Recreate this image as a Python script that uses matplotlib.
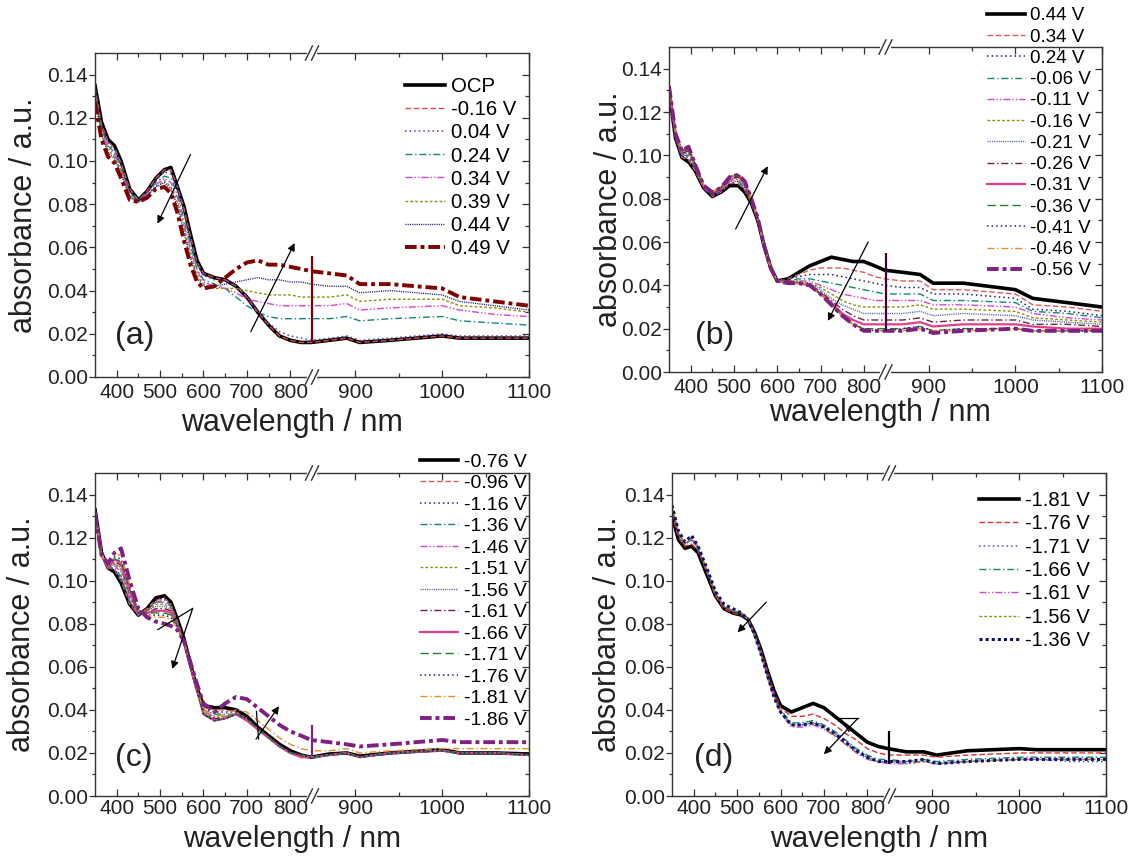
import numpy as np
import matplotlib
matplotlib.use('Agg')
import matplotlib.pyplot as plt
from matplotlib.ticker import FixedLocator, FormatStrFormatter

plt.rcParams['font.family'] = ['Liberation Sans', 'DejaVu Sans']

# wavelength grid (nm) used for every spectrum
wl = [350, 365, 380, 395, 410, 430, 450, 470, 490, 510,
      525, 540, 555, 570, 585, 600, 625, 650, 675, 700,
      725, 750, 775, 800, 825, 848, 870, 890, 905, 940,
      1000, 1020, 1060, 1100]

# ---- panel (a) ----
a_labels = ['OCP', '-0.16 V', '0.04 V', '0.24 V', '0.34 V', '0.39 V', '0.44 V', '0.49 V']
a_ocp = [0.135, 0.118, 0.110, 0.107, 0.100, 0.087, 0.082, 0.086, 0.092, 0.096,
         0.097, 0.088, 0.079, 0.066, 0.054, 0.048, 0.046, 0.045, 0.042, 0.037,
         0.030, 0.024, 0.019, 0.017, 0.016, 0.016, 0.017, 0.018, 0.016, 0.017,
         0.019, 0.018, 0.018, 0.018]
a_m016 = [0.134, 0.117, 0.109, 0.106, 0.099, 0.087, 0.082, 0.086, 0.092, 0.096,
          0.096, 0.088, 0.078, 0.065, 0.053, 0.048, 0.046, 0.045, 0.042, 0.037,
          0.030, 0.024, 0.019, 0.017, 0.016, 0.016, 0.017, 0.018, 0.016, 0.017,
          0.019, 0.018, 0.018, 0.018]
a_p004 = [0.133, 0.116, 0.108, 0.105, 0.098, 0.086, 0.082, 0.086, 0.091, 0.095,
          0.094, 0.087, 0.076, 0.063, 0.052, 0.047, 0.045, 0.045, 0.042, 0.038,
          0.031, 0.025, 0.021, 0.019, 0.018, 0.017, 0.018, 0.019, 0.017, 0.018,
          0.020, 0.019, 0.019, 0.019]
a_p024 = [0.132, 0.115, 0.107, 0.104, 0.097, 0.085, 0.082, 0.085, 0.090, 0.093,
          0.092, 0.085, 0.073, 0.061, 0.050, 0.045, 0.043, 0.041, 0.037, 0.033,
          0.030, 0.028, 0.027, 0.027, 0.027, 0.027, 0.027, 0.028, 0.026, 0.027,
          0.028, 0.026, 0.025, 0.024]
a_p034 = [0.131, 0.114, 0.106, 0.103, 0.096, 0.084, 0.081, 0.085, 0.089, 0.092,
          0.090, 0.083, 0.071, 0.059, 0.049, 0.044, 0.042, 0.041, 0.039, 0.036,
          0.035, 0.034, 0.033, 0.033, 0.033, 0.033, 0.033, 0.034, 0.031, 0.032,
          0.033, 0.031, 0.029, 0.028]
a_p039 = [0.130, 0.113, 0.105, 0.102, 0.095, 0.084, 0.081, 0.084, 0.088, 0.091,
          0.088, 0.081, 0.069, 0.057, 0.047, 0.043, 0.041, 0.041, 0.041, 0.040,
          0.039, 0.038, 0.038, 0.038, 0.037, 0.037, 0.037, 0.038, 0.035, 0.036,
          0.036, 0.033, 0.032, 0.030]
a_p044 = [0.129, 0.112, 0.104, 0.101, 0.094, 0.083, 0.081, 0.084, 0.088, 0.090,
          0.087, 0.079, 0.067, 0.055, 0.046, 0.042, 0.042, 0.043, 0.044, 0.045,
          0.046, 0.045, 0.045, 0.044, 0.044, 0.043, 0.042, 0.042, 0.039, 0.040,
          0.038, 0.035, 0.033, 0.031]
a_p049 = [0.127, 0.110, 0.102, 0.099, 0.092, 0.082, 0.081, 0.083, 0.087, 0.088,
          0.085, 0.076, 0.063, 0.052, 0.044, 0.041, 0.042, 0.046, 0.050, 0.053,
          0.054, 0.052, 0.052, 0.051, 0.050, 0.049, 0.048, 0.047, 0.043, 0.043,
          0.041, 0.037, 0.035, 0.033]
a_spike = [850, 0.016, 0.056]

# ---- panel (b) ----
b_labels = ['0.44 V', '0.34 V', '0.24 V', '-0.06 V', '-0.11 V', '-0.16 V', '-0.21 V',
            '-0.26 V', '-0.31 V', '-0.36 V', '-0.41 V', '-0.46 V', '-0.56 V']
b_p044 = [0.130, 0.108, 0.099, 0.097, 0.093, 0.085, 0.081, 0.083, 0.086, 0.086,
          0.083, 0.078, 0.070, 0.058, 0.048, 0.042, 0.043, 0.046, 0.049, 0.051,
          0.053, 0.052, 0.051, 0.051, 0.049, 0.047, 0.046, 0.045, 0.041, 0.041,
          0.038, 0.034, 0.032, 0.030]
b_p034 = [0.130, 0.108, 0.099, 0.098, 0.093, 0.085, 0.081, 0.083, 0.087, 0.087,
          0.084, 0.078, 0.070, 0.058, 0.048, 0.042, 0.043, 0.045, 0.047, 0.048,
          0.048, 0.048, 0.047, 0.046, 0.044, 0.043, 0.042, 0.042, 0.038, 0.038,
          0.036, 0.031, 0.030, 0.028]
b_p024 = [0.131, 0.108, 0.100, 0.099, 0.094, 0.085, 0.081, 0.083, 0.087, 0.088,
          0.085, 0.078, 0.070, 0.058, 0.048, 0.042, 0.043, 0.044, 0.045, 0.045,
          0.045, 0.044, 0.043, 0.042, 0.041, 0.040, 0.039, 0.039, 0.036, 0.036,
          0.034, 0.029, 0.028, 0.026]
b_m006 = [0.131, 0.109, 0.100, 0.100, 0.094, 0.085, 0.082, 0.084, 0.088, 0.088,
          0.085, 0.079, 0.070, 0.058, 0.048, 0.042, 0.042, 0.043, 0.043, 0.042,
          0.041, 0.040, 0.039, 0.038, 0.037, 0.036, 0.036, 0.036, 0.033, 0.033,
          0.032, 0.028, 0.027, 0.025]
b_m011 = [0.131, 0.109, 0.100, 0.101, 0.095, 0.085, 0.082, 0.084, 0.088, 0.089,
          0.086, 0.079, 0.070, 0.058, 0.048, 0.042, 0.042, 0.042, 0.042, 0.040,
          0.038, 0.036, 0.035, 0.034, 0.033, 0.033, 0.033, 0.033, 0.031, 0.031,
          0.030, 0.027, 0.025, 0.024]
b_m016 = [0.131, 0.109, 0.101, 0.101, 0.095, 0.086, 0.082, 0.084, 0.089, 0.089,
          0.086, 0.079, 0.070, 0.058, 0.048, 0.042, 0.042, 0.042, 0.041, 0.039,
          0.036, 0.033, 0.031, 0.030, 0.030, 0.030, 0.030, 0.031, 0.029, 0.029,
          0.028, 0.025, 0.024, 0.023]
b_m021 = [0.132, 0.109, 0.101, 0.102, 0.095, 0.086, 0.082, 0.085, 0.089, 0.090,
          0.087, 0.080, 0.070, 0.058, 0.048, 0.042, 0.042, 0.041, 0.041, 0.038,
          0.034, 0.031, 0.029, 0.027, 0.027, 0.027, 0.027, 0.028, 0.026, 0.027,
          0.026, 0.024, 0.023, 0.022]
b_m026 = [0.132, 0.110, 0.101, 0.102, 0.096, 0.086, 0.082, 0.085, 0.089, 0.090,
          0.087, 0.080, 0.071, 0.058, 0.048, 0.042, 0.042, 0.041, 0.040, 0.037,
          0.033, 0.029, 0.026, 0.024, 0.024, 0.024, 0.024, 0.025, 0.023, 0.024,
          0.024, 0.022, 0.022, 0.021]
b_m031 = [0.132, 0.110, 0.102, 0.103, 0.096, 0.086, 0.083, 0.085, 0.090, 0.091,
          0.088, 0.080, 0.071, 0.058, 0.048, 0.042, 0.041, 0.041, 0.040, 0.036,
          0.032, 0.027, 0.024, 0.022, 0.022, 0.022, 0.022, 0.023, 0.021, 0.022,
          0.022, 0.021, 0.020, 0.020]
b_m036 = [0.132, 0.110, 0.102, 0.103, 0.096, 0.086, 0.083, 0.085, 0.090, 0.091,
          0.088, 0.080, 0.071, 0.058, 0.048, 0.042, 0.041, 0.041, 0.040, 0.036,
          0.031, 0.026, 0.022, 0.020, 0.020, 0.020, 0.020, 0.021, 0.019, 0.020,
          0.020, 0.019, 0.019, 0.019]
b_m041 = [0.132, 0.110, 0.102, 0.104, 0.096, 0.086, 0.083, 0.085, 0.090, 0.091,
          0.088, 0.080, 0.071, 0.058, 0.048, 0.042, 0.041, 0.041, 0.040, 0.036,
          0.031, 0.026, 0.022, 0.020, 0.019, 0.019, 0.020, 0.021, 0.019, 0.020,
          0.020, 0.019, 0.019, 0.019]
b_m046 = [0.132, 0.110, 0.102, 0.104, 0.096, 0.086, 0.083, 0.085, 0.090, 0.091,
          0.088, 0.080, 0.071, 0.058, 0.048, 0.042, 0.041, 0.041, 0.040, 0.036,
          0.031, 0.026, 0.022, 0.019, 0.019, 0.019, 0.019, 0.020, 0.019, 0.019,
          0.020, 0.019, 0.019, 0.019]
b_m056 = [0.132, 0.110, 0.102, 0.104, 0.096, 0.086, 0.083, 0.085, 0.090, 0.091,
          0.088, 0.080, 0.071, 0.058, 0.048, 0.042, 0.041, 0.041, 0.040, 0.036,
          0.031, 0.026, 0.022, 0.019, 0.019, 0.019, 0.019, 0.020, 0.018, 0.019,
          0.020, 0.019, 0.019, 0.019]
b_spike = [850, 0.019, 0.055]

# ---- panel (c) ----
c_labels = ['-0.76 V', '-0.96 V', '-1.16 V', '-1.36 V', '-1.46 V', '-1.51 V', '-1.56 V',
            '-1.61 V', '-1.66 V', '-1.71 V', '-1.76 V', '-1.81 V', '-1.86 V']
c_m076 = [0.133, 0.113, 0.106, 0.104, 0.099, 0.089, 0.084, 0.087, 0.092, 0.093,
          0.090, 0.082, 0.073, 0.061, 0.050, 0.042, 0.041, 0.041, 0.040, 0.037,
          0.032, 0.028, 0.024, 0.021, 0.019, 0.018, 0.0195, 0.020, 0.0185, 0.020,
          0.0215, 0.020, 0.020, 0.0195]
c_m096 = [0.133, 0.113, 0.106, 0.105, 0.100, 0.089, 0.084, 0.087, 0.091, 0.092,
          0.089, 0.081, 0.072, 0.060, 0.049, 0.041, 0.040, 0.040, 0.039, 0.036,
          0.031, 0.027, 0.023, 0.020, 0.019, 0.018, 0.019, 0.020, 0.018, 0.020,
          0.021, 0.020, 0.020, 0.019]
c_m116 = [0.133, 0.113, 0.106, 0.105, 0.101, 0.090, 0.084, 0.086, 0.091, 0.092,
          0.089, 0.081, 0.072, 0.060, 0.049, 0.040, 0.039, 0.039, 0.039, 0.036,
          0.031, 0.027, 0.023, 0.020, 0.019, 0.018, 0.019, 0.020, 0.018, 0.020,
          0.021, 0.020, 0.020, 0.019]
c_m136 = [0.132, 0.113, 0.106, 0.106, 0.102, 0.090, 0.084, 0.086, 0.090, 0.091,
          0.088, 0.080, 0.071, 0.060, 0.049, 0.040, 0.038, 0.038, 0.038, 0.035,
          0.031, 0.027, 0.023, 0.020, 0.019, 0.018, 0.019, 0.020, 0.018, 0.020,
          0.021, 0.020, 0.020, 0.019]
c_m146 = [0.132, 0.113, 0.106, 0.107, 0.104, 0.091, 0.084, 0.086, 0.090, 0.090,
          0.088, 0.080, 0.071, 0.060, 0.049, 0.039, 0.037, 0.037, 0.038, 0.035,
          0.031, 0.027, 0.023, 0.020, 0.019, 0.018, 0.019, 0.020, 0.018, 0.020,
          0.021, 0.020, 0.020, 0.019]
c_m151 = [0.132, 0.113, 0.106, 0.108, 0.105, 0.092, 0.085, 0.086, 0.089, 0.089,
          0.087, 0.080, 0.071, 0.060, 0.049, 0.039, 0.036, 0.037, 0.038, 0.035,
          0.031, 0.027, 0.023, 0.020, 0.019, 0.018, 0.019, 0.020, 0.018, 0.020,
          0.021, 0.020, 0.020, 0.019]
c_m156 = [0.132, 0.112, 0.106, 0.108, 0.106, 0.093, 0.085, 0.086, 0.088, 0.088,
          0.086, 0.080, 0.071, 0.060, 0.049, 0.038, 0.036, 0.036, 0.038, 0.035,
          0.031, 0.027, 0.023, 0.020, 0.019, 0.018, 0.019, 0.020, 0.018, 0.020,
          0.021, 0.020, 0.020, 0.019]
c_m161 = [0.132, 0.112, 0.106, 0.109, 0.107, 0.094, 0.085, 0.085, 0.087, 0.087,
          0.086, 0.079, 0.071, 0.060, 0.049, 0.038, 0.036, 0.036, 0.038, 0.035,
          0.031, 0.027, 0.023, 0.020, 0.019, 0.018, 0.019, 0.020, 0.018, 0.020,
          0.021, 0.020, 0.020, 0.019]
c_m166 = [0.132, 0.112, 0.106, 0.110, 0.108, 0.095, 0.086, 0.085, 0.086, 0.086,
          0.085, 0.079, 0.071, 0.060, 0.049, 0.038, 0.035, 0.036, 0.038, 0.035,
          0.031, 0.027, 0.023, 0.020, 0.018, 0.018, 0.019, 0.020, 0.018, 0.020,
          0.021, 0.020, 0.020, 0.019]
c_m171 = [0.132, 0.112, 0.107, 0.110, 0.109, 0.096, 0.086, 0.085, 0.085, 0.085,
          0.084, 0.079, 0.071, 0.060, 0.049, 0.038, 0.035, 0.036, 0.038, 0.036,
          0.031, 0.027, 0.023, 0.020, 0.019, 0.018, 0.019, 0.020, 0.018, 0.020,
          0.021, 0.020, 0.020, 0.019]
c_m176 = [0.131, 0.112, 0.107, 0.111, 0.110, 0.097, 0.086, 0.084, 0.084, 0.084,
          0.083, 0.078, 0.071, 0.060, 0.049, 0.038, 0.035, 0.036, 0.038, 0.036,
          0.032, 0.028, 0.024, 0.020, 0.019, 0.018, 0.019, 0.020, 0.018, 0.020,
          0.021, 0.020, 0.020, 0.019]
c_m181 = [0.131, 0.112, 0.107, 0.112, 0.112, 0.098, 0.086, 0.084, 0.083, 0.083,
          0.082, 0.078, 0.072, 0.061, 0.050, 0.040, 0.037, 0.038, 0.040, 0.039,
          0.035, 0.031, 0.027, 0.024, 0.022, 0.021, 0.021, 0.022, 0.020, 0.021,
          0.022, 0.022, 0.022, 0.022]
c_m186 = [0.131, 0.112, 0.108, 0.113, 0.115, 0.100, 0.087, 0.083, 0.081, 0.080,
          0.079, 0.077, 0.072, 0.062, 0.052, 0.043, 0.039, 0.043, 0.046, 0.045,
          0.041, 0.037, 0.033, 0.030, 0.028, 0.026, 0.025, 0.024, 0.023, 0.024,
          0.026, 0.025, 0.025, 0.025]
c_spike = [850, 0.019, 0.033]

# ---- panel (d) ----
d_labels = ['-1.81 V', '-1.76 V', '-1.71 V', '-1.66 V', '-1.61 V', '-1.56 V', '-1.36 V']
d_m181 = [0.130, 0.119, 0.115, 0.116, 0.113, 0.103, 0.093, 0.087, 0.085, 0.084,
          0.082, 0.076, 0.068, 0.058, 0.049, 0.042, 0.039, 0.041, 0.043, 0.041,
          0.037, 0.033, 0.029, 0.025, 0.023, 0.022, 0.0205, 0.0205, 0.019, 0.021,
          0.022, 0.0215, 0.0215, 0.0215]
d_m176 = [0.131, 0.120, 0.116, 0.117, 0.114, 0.104, 0.093, 0.087, 0.085, 0.084,
          0.082, 0.076, 0.068, 0.058, 0.048, 0.041, 0.037, 0.037, 0.038, 0.036,
          0.033, 0.029, 0.026, 0.022, 0.020, 0.019, 0.019, 0.019, 0.018, 0.019,
          0.020, 0.020, 0.020, 0.020]
d_m171 = [0.134, 0.122, 0.117, 0.119, 0.115, 0.105, 0.094, 0.088, 0.086, 0.085,
          0.082, 0.075, 0.066, 0.056, 0.046, 0.039, 0.033, 0.033, 0.034, 0.032,
          0.029, 0.025, 0.021, 0.018, 0.016, 0.016, 0.015, 0.016, 0.015, 0.016,
          0.017, 0.017, 0.016, 0.016]
d_m166 = [0.134, 0.122, 0.117, 0.119, 0.115, 0.105, 0.094, 0.088, 0.086, 0.085,
          0.082, 0.075, 0.066, 0.056, 0.047, 0.040, 0.034, 0.034, 0.035, 0.033,
          0.030, 0.026, 0.022, 0.019, 0.017, 0.017, 0.016, 0.017, 0.016, 0.017,
          0.018, 0.018, 0.018, 0.018]
d_m161 = [0.134, 0.122, 0.117, 0.119, 0.115, 0.105, 0.094, 0.088, 0.086, 0.085,
          0.082, 0.075, 0.066, 0.055, 0.046, 0.039, 0.032, 0.032, 0.033, 0.031,
          0.028, 0.024, 0.020, 0.017, 0.016, 0.015, 0.015, 0.016, 0.015, 0.016,
          0.017, 0.017, 0.017, 0.017]
d_m156 = [0.135, 0.122, 0.117, 0.120, 0.116, 0.105, 0.094, 0.088, 0.086, 0.085,
          0.082, 0.075, 0.066, 0.055, 0.046, 0.039, 0.033, 0.033, 0.034, 0.032,
          0.028, 0.024, 0.021, 0.018, 0.016, 0.016, 0.016, 0.016, 0.015, 0.016,
          0.017, 0.017, 0.017, 0.017]
d_m136 = [0.135, 0.123, 0.118, 0.121, 0.116, 0.106, 0.095, 0.089, 0.087, 0.085,
          0.082, 0.075, 0.066, 0.056, 0.046, 0.039, 0.033, 0.033, 0.034, 0.032,
          0.029, 0.025, 0.021, 0.018, 0.016, 0.016, 0.016, 0.017, 0.015, 0.016,
          0.017, 0.017, 0.017, 0.017]
d_spike = [850, 0.015, 0.030]

# ---- line styles ----
SOLID_THICK = dict(ls='-', lw=2.6)
DASH = dict(ls=(0, (4, 2)), lw=1.0)
DOT = dict(ls=(0, (1, 2)), lw=1.1)
DASHDOT = dict(ls=(0, (5, 2, 1, 2)), lw=1.0)
DASHDOTDOT = dict(ls=(0, (5, 1.5, 1, 1.5, 1, 1.5)), lw=1.0)
SHORTDASH = dict(ls=(0, (2, 1.5)), lw=1.0)
FINEDOT = dict(ls=(0, (0.8, 0.8)), lw=1.0)
SOLID_THIN = dict(ls='-', lw=1.6)
LONGDASH = dict(ls=(0, (6, 3)), lw=1.0)
THICK_DASHDOT = dict(ls=(0, (3, 1, 1, 1)), lw=2.8)
THICK_DOT = dict(ls=(0, (1, 1)), lw=2.2)

a_colors = ['black', '#e04848', '#3848c0', '#108878', '#d048d0', '#909010', '#202080', '#800000']
a_styles = [SOLID_THICK, DASH, DOT, DASHDOT, DASHDOTDOT, SHORTDASH, FINEDOT, THICK_DASHDOT]
bc_colors = ['black', '#e05a5a', '#202080', '#108878', '#d048d0', '#909010', '#5060a0',
             '#702040', '#e0408a', '#208030', '#202080', '#e09020', '#802080']
bc_styles = [SOLID_THICK, DASH, DOT, DASHDOT, DASHDOTDOT, SHORTDASH, FINEDOT,
             DASHDOT, SOLID_THIN, LONGDASH, DOT, DASHDOT, THICK_DASHDOT]
d_colors = ['black', '#e03030', '#4050d0', '#108878', '#d048d0', '#909010', '#101070']
d_styles = [SOLID_THICK, DASH, DOT, DASHDOT, DASHDOTDOT, SHORTDASH, THICK_DOT]


# broken x axis: 350-850 nm on the left half, 850-1100 nm on the right half
def fwd(x):
    x = np.asarray(x, dtype=float)
    return np.where(x <= 850, (x - 350) / 500.0, 1.0 + (x - 850) / 250.0)


def inv(u):
    u = np.asarray(u, dtype=float)
    return np.where(u <= 1.0, 350 + u * 500.0, 850 + (u - 1.0) * 250.0)


fig = plt.figure(figsize=(11.34, 8.56), dpi=100)
W, H = 1134.0, 856.0

panels = [
    dict(box=(95, 53, 529, 377), tag='(a)', tagpos=(0.092, 0.128),
         series=[a_ocp, a_m016, a_p004, a_p024, a_p034, a_p039, a_p044, a_p049],
         labels=a_labels, colors=a_colors, styles=a_styles,
         spike=a_spike, spike_color='#800000',
         leg=(0.972, 0.925), leg_fs=14.7, leg_sp=0.2,
         ylab=(-0.164, 0.5), xlab=(0.454, -0.142), xlab_fs=22, pad=4,
         arrows=[((570, 0.103), (494, 0.071)), ((709, 0.021), (810, 0.062))],
         segs=[]),
    dict(box=(669, 47, 1102, 372), tag='(b)', tagpos=(0.106, 0.111),
         series=[b_p044, b_p034, b_p024, b_m006, b_m011, b_m016, b_m021,
                 b_m026, b_m031, b_m036, b_m041, b_m046, b_m056],
         labels=b_labels, colors=bc_colors, styles=bc_styles,
         spike=b_spike, spike_color='#400040',
         leg=(0.975, 1.122), leg_fs=13.5, leg_sp=0.22,
         ylab=(-0.138, 0.5), xlab=(0.487, -0.127), xlab_fs=22, pad=4,
         arrows=[((504, 0.066), (578, 0.095)), ((810, 0.060), (717, 0.0236))],
         segs=[]),
    dict(box=(95, 473, 529, 796), tag='(c)', tagpos=(0.09, 0.119),
         series=[c_m076, c_m096, c_m116, c_m136, c_m146, c_m151, c_m156,
                 c_m161, c_m166, c_m171, c_m176, c_m181, c_m186],
         labels=c_labels, colors=bc_colors, styles=bc_styles,
         spike=c_spike, spike_color='#802080',
         leg=(0.996, 1.062), leg_fs=14, leg_sp=0.2,
         ylab=(-0.169, 0.5), xlab=(0.455, -0.133), xlab_fs=21.5, pad=2,
         arrows=[((575, 0.0871), (528, 0.059)), ((721, 0.0264), (774, 0.0417))],
         segs=[((495, 0.0773), (575, 0.0871)), ((722, 0.0393), (727, 0.0264))]),
    dict(box=(672, 473, 1106, 796), tag='(d)', tagpos=(0.097, 0.119),
         series=[d_m181, d_m176, d_m171, d_m166, d_m161, d_m156, d_m136],
         labels=d_labels, colors=d_colors, styles=d_styles,
         spike=d_spike, spike_color='black',
         leg=(0.963, 0.945), leg_fs=14.5, leg_sp=0.22,
         ylab=(-0.147, 0.5), xlab=(0.478, -0.133), xlab_fs=21.5, pad=2,
         arrows=[((567, 0.090), (501, 0.076)), ((778, 0.036), (700, 0.0194))],
         segs=[((737, 0.036), (778, 0.036)), ((737, 0.036), (758, 0.030))]),
]

spine_c = '#333333'
for p in panels:
    x0, y0, x1, y1 = p['box']
    ax = fig.add_axes([x0 / W, 1 - y1 / H, (x1 - x0) / W, (y1 - y0) / H])
    ax.set_xscale('function', functions=(fwd, inv))

    for vals, lab, col, st in zip(p['series'], p['labels'], p['colors'], p['styles']):
        ax.plot(wl, vals, color=col, label=lab, **st)
    sx, sy0, sy1 = p['spike']
    ax.vlines(sx, sy0, sy1, color=p['spike_color'], lw=1.6)

    ax.set_xlim(350, 1100)
    ax.set_ylim(0, 0.15)
    ax.xaxis.set_major_locator(FixedLocator([400, 500, 600, 700, 800, 900, 1000, 1100]))
    ax.xaxis.set_minor_locator(FixedLocator([450, 550, 650, 750, 950, 1050]))
    ax.xaxis.set_major_formatter(FormatStrFormatter('%d'))
    ax.yaxis.set_major_locator(FixedLocator(np.arange(0, 0.141, 0.02)))
    ax.yaxis.set_minor_locator(FixedLocator(np.arange(0.01, 0.15, 0.02)))
    ax.yaxis.set_major_formatter(FormatStrFormatter('%.2f'))

    ax.tick_params(axis='x', which='both', direction='in', top=True, colors=spine_c,
                   labelcolor='#222222', labelsize=15, pad=p['pad'])
    ax.tick_params(axis='x', which='major', length=5, width=0.9)
    ax.tick_params(axis='x', which='minor', length=3, width=0.9)
    ax.tick_params(axis='y', which='both', direction='out', colors=spine_c,
                   labelcolor='#222222', labelsize=15, pad=1)
    ax.tick_params(axis='y', which='major', length=4, width=0.9)
    ax.tick_params(axis='y', which='minor', length=2.5, width=0.9)
    sec = ax.secondary_yaxis('right')
    sec.yaxis.set_major_locator(FixedLocator(np.arange(0, 0.141, 0.02)))
    sec.yaxis.set_minor_locator(FixedLocator(np.arange(0.01, 0.15, 0.02)))
    sec.tick_params(which='both', direction='in', labelright=False, colors=spine_c, width=0.9)
    sec.tick_params(which='major', length=5)
    sec.tick_params(which='minor', length=3)
    sec.spines['right'].set_color(spine_c)
    for s in ax.spines.values():
        s.set_color(spine_c)
        s.set_linewidth(1.0)

    # axis break marks
    for yb in (0.0, 1.0):
        ax.plot([0.492, 0.508], [yb, yb], color='white', lw=3, transform=ax.transAxes,
                clip_on=False, zorder=5)
        for dx in (-0.007, 0.007):
            ax.plot([0.5 + dx - 0.008, 0.5 + dx + 0.008], [yb - 0.022, yb + 0.022],
                    color=spine_c, lw=1.0, transform=ax.transAxes, clip_on=False, zorder=6)

    for tail, head in p['arrows']:
        ax.annotate('', xy=head, xytext=tail,
                    arrowprops=dict(arrowstyle='-|>', color='black', lw=0.9,
                                    mutation_scale=11, shrinkA=0, shrinkB=0))
    for (xa, ya), (xb, yb2) in p['segs']:
        ax.plot([xa, xb], [ya, yb2], color='black', lw=0.9)

    ax.text(p['tagpos'][0], p['tagpos'][1], p['tag'], transform=ax.transAxes,
            fontsize=23, ha='center', va='center', color='#222222')

    ax.set_ylabel('absorbance / a.u.', fontsize=22, color='#222222', va='center')
    ax.yaxis.set_label_coords(*p['ylab'])
    ax.set_xlabel('wavelength / nm', fontsize=p['xlab_fs'], color='#222222', va='center')
    ax.xaxis.set_label_coords(*p['xlab'])

    ax.legend(loc='upper right', bbox_to_anchor=p['leg'], frameon=False,
              fontsize=p['leg_fs'], handlelength=2.0, handletextpad=0.3,
              labelspacing=p['leg_sp'], borderaxespad=0, borderpad=0)

fig.savefig('out.png', dpi=100)
